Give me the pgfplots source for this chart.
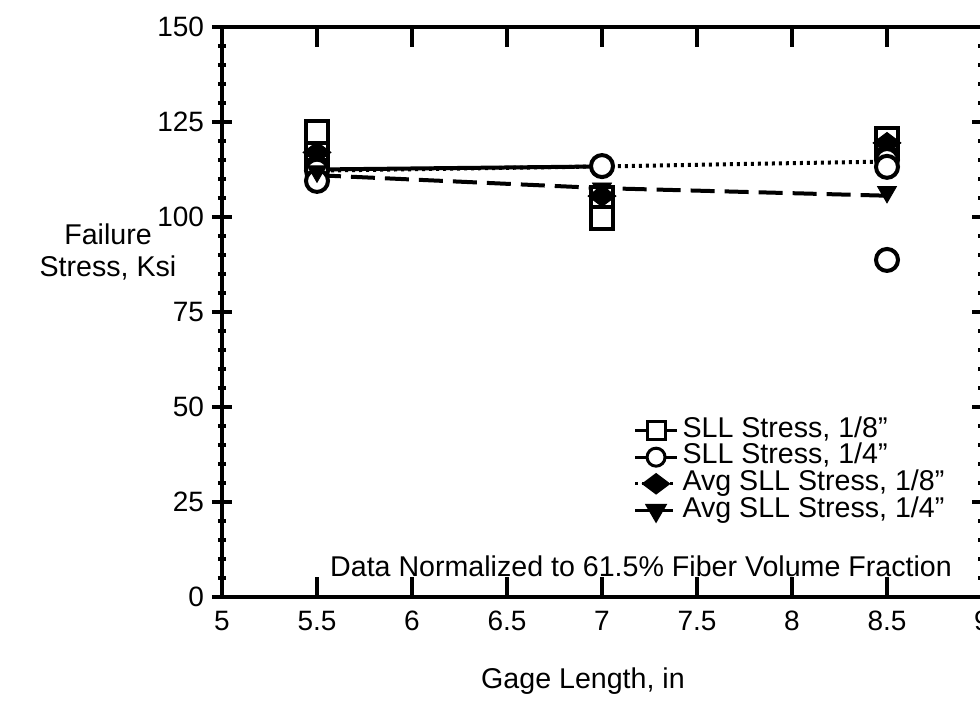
\documentclass[border=0pt]{standalone}
\usepackage{pgfplots}
\pgfplotsset{compat=1.18}
\usepackage{fontspec}
\setmainfont{Liberation Sans}
\begin{document}
\fontsize{14.3}{16}\selectfont
\begin{tikzpicture}
\begin{axis}[
  at={(0pt,0pt)}, anchor=south west,
  scale only axis, width=380pt, height=285pt,
  xmin=5, xmax=9, ymin=0, ymax=150,
  xtick={5,5.5,6,6.5,7,7.5,8,8.5,9},
  ytick={0,25,50,75,100,125,150},
  minor y tick num=4,
  axis line style={line width=1.8pt},
  every tick/.style={black, line width=1.6pt},
  major tick length=10pt, minor tick length=4pt,
  xtick align=inside, ytick align=center,
  /pgf/number format/assume math mode=true,
  ticklabel style={font=\fontsize{14}{16}\selectfont},
  xticklabel style={text height=10pt, text depth=0pt, yshift=-2pt},
  yticklabel style={xshift=1pt},
  clip=false,
  legend style={at={(axis description cs:0.541,0.316)}, anchor=north west,
    draw=none, fill=none, inner sep=0pt, row sep=0pt,
    font=\fontsize{14.3}{16}\selectfont,
    nodes={inner ysep=0pt, text height=10pt, text depth=3.3pt}},
  legend cell align=left,
  legend image code/.code={\draw[mark repeat=2,mark phase=2,#1] plot coordinates {(0pt,0pt) (10.5pt,0pt) (21pt,0pt)};},
]
% lines
\addplot[forget plot, black, line width=2pt] coordinates {(5.5,112.5) (7,113.3)};
\addplot[forget plot, black, line width=2pt, dash pattern=on 1.5pt off 2pt] coordinates {(5.5,112.2) (7,113.3) (8.5,114.6)};
\addplot[forget plot, black, line width=2pt, dash pattern=on 12pt off 5pt] coordinates {(5.5,111) (7,107.6) (8.5,105.6)};
% SLL 1/8 squares
\addplot[forget plot, only marks, black, mark=square*, mark size=5.5pt, mark options={fill=white, line width=2pt}] coordinates {
(5.5,115.5) (5.5,118) (5.5,122.4) (7,105) (7,102.5) (7,99.8) (8.5,118.5) (8.5,120.5)};
% Avg 1/8 diamonds
\addplot[forget plot, only marks, black, mark=diamond*, mark size=7pt, mark options={fill=black, rotate=90}] coordinates {
(5.5,117) (7,105.5) (8.5,119.5)};
% SLL 1/4 circles
\addplot[forget plot, only marks, black, mark=*, mark size=5.5pt, mark options={fill=white, line width=2pt}] coordinates {
(5.5,112.2) (5.5,109.5) (7,113.4) (8.5,115) (8.5,113.2) (8.5,88.7)};
% Avg 1/4 triangles
\addplot[forget plot, only marks, black, mark=triangle*, mark size=5.5pt, mark options={fill=black, rotate=180}] coordinates {
(5.5,112) (7,107.5) (8.5,106.6)};
% legend
\addlegendimage{black, line width=1.5pt, mark=square*, mark size=4.5pt, mark options={fill=white, line width=1.5pt}}
\addlegendentry{SLL Stress, 1/8"}
\addlegendimage{black, line width=1.5pt, mark=*, mark size=4.5pt, mark options={fill=white, line width=1.5pt}}
\addlegendentry{SLL Stress, 1/4"}
\addlegendimage{black, line width=1.5pt, dash pattern=on 1.5pt off 2pt, mark=diamond*, mark size=6pt, mark options={solid, fill=black, rotate=90}}
\addlegendentry{Avg SLL Stress, 1/8"}
\addlegendimage{black, line width=1.5pt, dash pattern=on 8pt off 3pt, mark=triangle*, mark size=5pt, mark options={solid, fill=black, rotate=180}}
\addlegendentry{Avg SLL Stress, 1/4"}
\end{axis}
\node at (209.5pt,15.5pt) {Data Normalized to 61.5\% Fiber Volume Fraction};
\node[align=center] at (-57pt,172.5pt) {Failure\\Stress, Ksi};
\node at (180.5pt,-42pt) {Gage Length, in};
\pgfresetboundingbox
\path[use as bounding box] (-111pt,-52.5pt) rectangle (379pt,298.5pt);
\end{tikzpicture}
\end{document}
